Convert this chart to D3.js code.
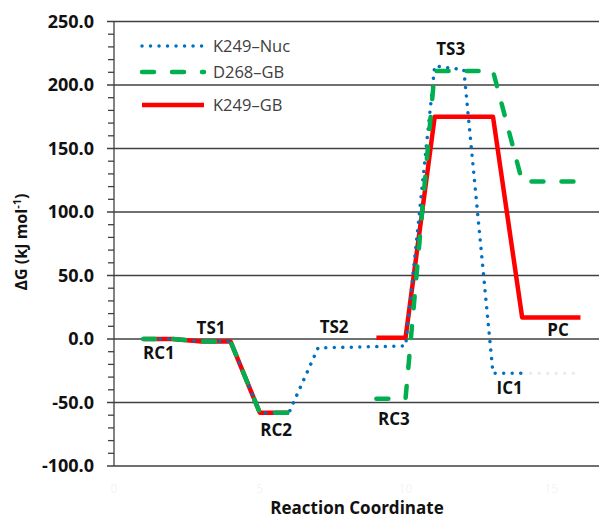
<!DOCTYPE html>
<html>
<head>
<meta charset="utf-8">
<script src="https://cdn.jsdelivr.net/npm/d3@7"></script>
<style>
  body { margin: 0; background: #fff; }
  text { font-family: "Open Sans", sans-serif; }
</style>
</head>
<body>
<div id="chart"></div>
<script>
// Reaction coordinate steps (two points per state)
const steps    = [1, 2, 3, 4, 5, 6, 7, 8, 9, 10, 11, 12, 13, 14, 15, 16];
const k249Nuc  = [0, 0, -2, -2, -58, -58, -7, -6.5, -6, -5.5, 215, 212, -27, -27, null, null];
const k249NucTail = [null, null, null, null, null, null, null, null, null, null, null, null, null, -27, -27, -27];
const d268GB   = [0, 0, -2, -2, -58, -58, null, null, -47, -47, 211, 211, 211, 124, 124, 124];
const k249GB   = [0, 0, -2, -2, -58, -58, null, null, 1, 1, 175, 175, 175, 17, 17, 17];

const yTicks = [-100, -50, 0, 50, 100, 150, 200, 250];
const xTicks = [0, 5, 10, 15];

const stateNames = ["RC1", "TS1", "RC2", "TS2", "RC3", "TS3", "IC1", "PC"];
const stateX     = [1.54, 3.33, 5.56, 7.55, 9.6, 11.55, 13.57, 15.23];
const stateY     = [-16, 4, -76, 5, -68, 224, -43, 2];

const W = 600, H = 518;
const svg = d3.select('#chart').append('svg')
  .attr('width', W).attr('height', H);

const x = d3.scaleLinear().domain([0, 16.67]).range([114, 600]);
const y = d3.scaleLinear().domain([-100, 250]).range([466, 21.5]);

// gridlines + major ticks
svg.append('g').selectAll('line').data(yTicks).enter().append('line')
  .attr('x1', 107).attr('x2', 599)
  .attr('y1', d => y(d)).attr('y2', d => y(d))
  .attr('stroke', '#404040').attr('stroke-width', 1.3);

// minor ticks
const minor = d3.range(-100, 251, 10).filter(v => v % 50 !== 0);
svg.append('g').selectAll('line').data(minor).enter().append('line')
  .attr('x1', 108).attr('x2', 114)
  .attr('y1', d => y(d)).attr('y2', d => y(d))
  .attr('stroke', '#404040').attr('stroke-width', 1.3);

// y axis line
svg.append('line')
  .attr('x1', x(0)).attr('x2', x(0))
  .attr('y1', y(250)).attr('y2', y(-100))
  .attr('stroke', '#404040').attr('stroke-width', 1.3);

// y tick labels
svg.append('g').selectAll('text').data(yTicks).enter().append('text')
  .attr('x', 94).attr('y', d => y(d))
  .attr('dy', '0.36em')
  .attr('text-anchor', 'end')
  .attr('font-size', 18).attr('font-weight', 'bold').attr('fill', '#111')
  .text(d => d.toFixed(1));

// faint x tick labels (almost invisible in the original)
svg.append('g').selectAll('text').data(xTicks).enter().append('text')
  .attr('x', d => x(d)).attr('y', 493)
  .attr('text-anchor', 'middle')
  .attr('font-size', 12).attr('fill', '#f4f4f4')
  .text(d => d);

// axis titles
svg.append('text')
  .attr('x', 357).attr('y', 514)
  .attr('text-anchor', 'middle')
  .attr('font-size', 17).attr('font-weight', 'bold').attr('fill', '#111')
  .text('Reaction Coordinate');

const yt = svg.append('text')
  .attr('transform', 'translate(27,242) rotate(-90)')
  .attr('text-anchor', 'middle')
  .attr('font-size', 16).attr('font-weight', 'bold').attr('fill', '#111');
yt.append('tspan').text('ΔG (kJ mol');
yt.append('tspan').attr('font-size', 11).attr('dy', -6).text('-1');
yt.append('tspan').attr('dy', 6).text(')');

// series
const line = vals => d3.line()
  .defined((d, i) => vals[i] !== null)
  .x((d, i) => x(steps[i]))
  .y((d, i) => y(vals[i]))(vals);

const series = [
  { vals: k249GB,  color: '#ff0000', width: 4.5, dash: null,        cap: 'butt' },
  { vals: k249NucTail, color: '#e6ecf4', width: 3.5, dash: '0.01 8.5', cap: 'round' },
  { vals: k249Nuc, color: '#0070c0', width: 3.5, dash: '0.01 8.5', cap: 'round' },
  { vals: d268GB,  color: '#00b050', width: 4.5, dash: '12 18',     cap: 'round' }
];
svg.append('g').selectAll('path').data(series).enter().append('path')
  .attr('d', d => line(d.vals))
  .attr('fill', 'none')
  .attr('stroke', d => d.color)
  .attr('stroke-width', d => d.width)
  .attr('stroke-dasharray', d => d.dash)
  .attr('stroke-linecap', d => d.cap)
  .attr('stroke-linejoin', 'round');

// state labels
svg.append('g').selectAll('text').data(stateNames).enter().append('text')
  .attr('x', (d, i) => x(stateX[i]))
  .attr('y', (d, i) => y(stateY[i]))
  .attr('text-anchor', 'middle')
  .attr('font-size', 17).attr('font-weight', 'bold').attr('fill', '#111')
  .text(d => d);

// legend
const legendNames = ['K249–Nuc', 'D268–GB', 'K249–GB'];
const legendStyle = [series[2], series[3], series[0]];
const legendY = [46, 72, 105];
const lg = svg.append('g');
lg.selectAll('line').data(legendNames).enter().append('line')
  .attr('x1', 142).attr('x2', 204)
  .attr('y1', (d, i) => legendY[i]).attr('y2', (d, i) => legendY[i])
  .attr('stroke', (d, i) => legendStyle[i].color)
  .attr('stroke-width', (d, i) => legendStyle[i].width)
  .attr('stroke-dasharray', (d, i) => legendStyle[i].dash)
  .attr('stroke-linecap', (d, i) => legendStyle[i].cap);
lg.selectAll('text').data(legendNames).enter().append('text')
  .attr('x', 213).attr('y', (d, i) => legendY[i])
  .attr('dy', '0.36em')
  .attr('font-size', 16.5).attr('fill', '#404040')
  .text(d => d);
</script>
</body>
</html>
